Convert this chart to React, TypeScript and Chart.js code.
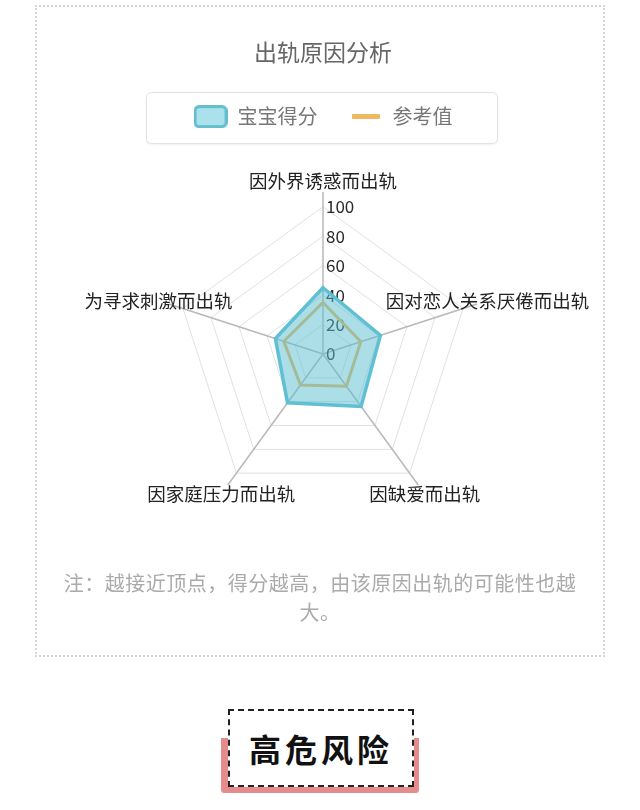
import React, { useEffect, useRef } from "react";
import { Chart, registerables } from "chart.js";
Chart.register(...registerables);

const FONT = '"Noto Sans CJK SC", "Noto Sans", sans-serif';
Chart.defaults.font.family = FONT;

// axes, clockwise from the top
const reasons = ["因外界诱惑而出轨", "因对恋人关系厌倦而出轨", "因缺爱而出轨", "因家庭压力而出轨", "为寻求刺激而出轨"];
const seriesNames = ["宝宝得分", "参考值"];
const babyScore = [45, 41, 44, 41, 34];
const referenceScore = [35, 27, 27, 26, 28];
const tickValues = [0, 20, 40, 60, 80, 100];

const scoreLine = "rgb(95, 192, 212)";
const scoreFill = "rgba(90, 190, 210, 0.5)";
const refLine = "rgb(238, 185, 95)";

function makeMarker(w: number, h: number, paint: (ctx: CanvasRenderingContext2D) => void) {
	const c = document.createElement("canvas");
	c.width = w;
	c.height = h;
	paint(c.getContext("2d") as CanvasRenderingContext2D);
	return c;
}

// white rounded frame behind the legend
const legendFrame = {
	id: "legendFrame",
	beforeDraw(chart: any) {
		const boxes = chart.legend?.legendHitBoxes;
		if (!boxes || !boxes.length) return;
		const left = Math.min(...boxes.map((b: any) => b.left)) - 48;
		const right = Math.max(...boxes.map((b: any) => b.left + b.width)) + 44;
		const mid = boxes[0].top + boxes[0].height / 2;
		const ctx = chart.ctx;
		ctx.save();
		ctx.shadowColor = "rgba(0,0,0,0.08)";
		ctx.shadowBlur = 3;
		ctx.shadowOffsetY = 1;
		ctx.fillStyle = "#fff";
		ctx.beginPath();
		ctx.roundRect(Math.round(left) + 0.5, Math.round(mid - 25) + 0.5, Math.round(right - left), 51, 5);
		ctx.fill();
		ctx.shadowColor = "transparent";
		ctx.strokeStyle = "#e2e2e2";
		ctx.lineWidth = 1;
		ctx.stroke();
		ctx.restore();
	},
};

// tick numbers beside the vertical axis (under the fill) and axis names centred on each spoke
const radarText = {
	id: "radarText",
	beforeDatasetsDraw(chart: any) {
		const scale = chart.scales.r;
		const ctx = chart.ctx;
		ctx.save();
		ctx.font = `17px ${FONT}`;
		ctx.fillStyle = "#2a2a2a";
		ctx.textAlign = "left";
		ctx.textBaseline = "middle";
		scale.ticks.forEach((t: any) => {
			const d = scale.getDistanceFromCenterForValue(t.value);
			ctx.fillText(String(t.label ?? t.value), scale.xCenter + 3, scale.yCenter - d);
		});
		ctx.restore();
	},
	afterDatasetsDraw(chart: any) {
		const scale = chart.scales.r;
		const ctx = chart.ctx;
		ctx.save();
		ctx.font = `18.5px ${FONT}`;
		ctx.fillStyle = "#222";
		ctx.textAlign = "center";
		ctx.textBaseline = "middle";
		(chart.data.labels as string[]).forEach((label, i) => {
			const p = scale.getPointPosition(i, scale.drawingArea + 11);
			ctx.fillText(label, p.x, p.y);
		});
		ctx.restore();
	},
};

const RadarChart: React.FC = () => {
	const chartRef = useRef<HTMLCanvasElement | null>(null);
	const chartInstanceRef = useRef<Chart | null>(null);

	useEffect(() => {
		if (!chartRef.current) return;
		const ctx = chartRef.current.getContext("2d");
		if (!ctx) return;

		const markers = [
			makeMarker(34, 23, (m) => {
				m.fillStyle = "rgb(170, 225, 235)";
				m.strokeStyle = "rgb(100, 190, 206)";
				m.lineWidth = 3;
				m.beginPath();
				m.roundRect(1.5, 1.5, 31, 20, 4);
				m.fill();
				m.stroke();
			}),
			makeMarker(28, 5, (m) => {
				m.fillStyle = refLine;
				m.beginPath();
				m.roundRect(0, 0, 28, 5, 1);
				m.fill();
			}),
		];

		if (chartInstanceRef.current) chartInstanceRef.current.destroy();

		chartInstanceRef.current = new Chart(ctx, {
			type: "radar",
			data: {
				labels: reasons,
				datasets: [
					{
						label: seriesNames[0],
						data: babyScore,
						backgroundColor: scoreFill,
						borderColor: scoreLine,
						borderWidth: 3.5,
						fill: true,
					},
					{
						label: seriesNames[1],
						data: referenceScore,
						backgroundColor: "transparent",
						borderColor: refLine,
						borderWidth: 3,
						fill: false,
					},
				],
			},
			options: {
				responsive: true,
				maintainAspectRatio: false,
				animation: false,
				layout: { padding: { left: 124, right: 118, top: 0, bottom: 0 } },
				elements: { point: { radius: 0, hoverRadius: 0 }, line: { tension: 0 } },
				plugins: {
					title: {
						display: true,
						text: "出轨原因分析",
						color: "#666",
						font: { size: 23, weight: "normal" },
						padding: { top: 31, bottom: 10 },
					},
					legend: {
						position: "top",
						labels: {
							usePointStyle: true,
							pointStyleWidth: 34,
							padding: 31,
							color: "#777",
							font: { size: 20 },
							generateLabels: (chart: any) =>
								Chart.defaults.plugins.legend.labels
									.generateLabels(chart)
									.map((item: any, i: number) => ({ ...item, pointStyle: markers[i] })),
						},
					},
					tooltip: { enabled: false },
				},
				scales: {
					r: {
						min: 0,
						max: 110,
						afterBuildTicks: (scale: any) => {
							scale.ticks = tickValues.map((v) => ({ value: v, label: String(v) }));
						},
						ticks: { display: false },
						pointLabels: { display: false },
						grid: { color: "#e1e1e1", lineWidth: 1, circular: false },
						angleLines: { color: "#b8b8b8", lineWidth: 1.5 },
					},
				},
			} as any,
			plugins: [legendFrame, radarText],
		});

		return () => {
			if (chartInstanceRef.current) {
				chartInstanceRef.current.destroy();
				chartInstanceRef.current = null;
			}
		};
	}, []);

	return (
		<div style={{ position: "absolute", left: 37, top: 7, width: 566, height: 566 }}>
			<canvas ref={chartRef} style={{ display: "block" }} />
		</div>
	);
};

export default function App() {
	return (
		<div
			style={{
				position: "absolute",
				left: 0,
				top: 0,
				width: 640,
				height: 810,
				background: "#fff",
				fontFamily: FONT,
				overflow: "hidden",
			}}
		>
			<div
				style={{
					position: "absolute",
					left: 35,
					top: 5,
					width: 570,
					height: 652,
					boxSizing: "border-box",
					border: "2px dotted #d6d6d6",
				}}
			/>
			<RadarChart />
			<div
				style={{
					position: "absolute",
					left: 35,
					top: 568,
					width: 570,
					textAlign: "center",
					fontSize: 20,
					lineHeight: "29px",
					letterSpacing: 0.5,
					color: "#aaa",
				}}
			>
				注：越接近顶点，得分越高，由该原因出轨的可能性也越
				<br />
				大。
			</div>
			<div
				style={{
					position: "absolute",
					left: 221,
					top: 738,
					width: 198,
					height: 55,
					boxSizing: "border-box",
					borderLeft: "7px solid #e68b8b",
					borderRight: "7px solid #e68b8b",
					borderBottom: "7px solid #e68b8b",
					borderRadius: "0 0 4px 4px",
				}}
			/>
			<div
				style={{
					position: "absolute",
					left: 228,
					top: 709,
					width: 186,
					height: 78,
					boxSizing: "border-box",
					border: "2px dashed #222",
					background: "#fff",
					display: "flex",
					alignItems: "center",
					justifyContent: "center",
					fontSize: 32,
					fontWeight: "bold",
					letterSpacing: 4,
					color: "#111",
				}}
			>
				高危风险
			</div>
		</div>
	);
}
